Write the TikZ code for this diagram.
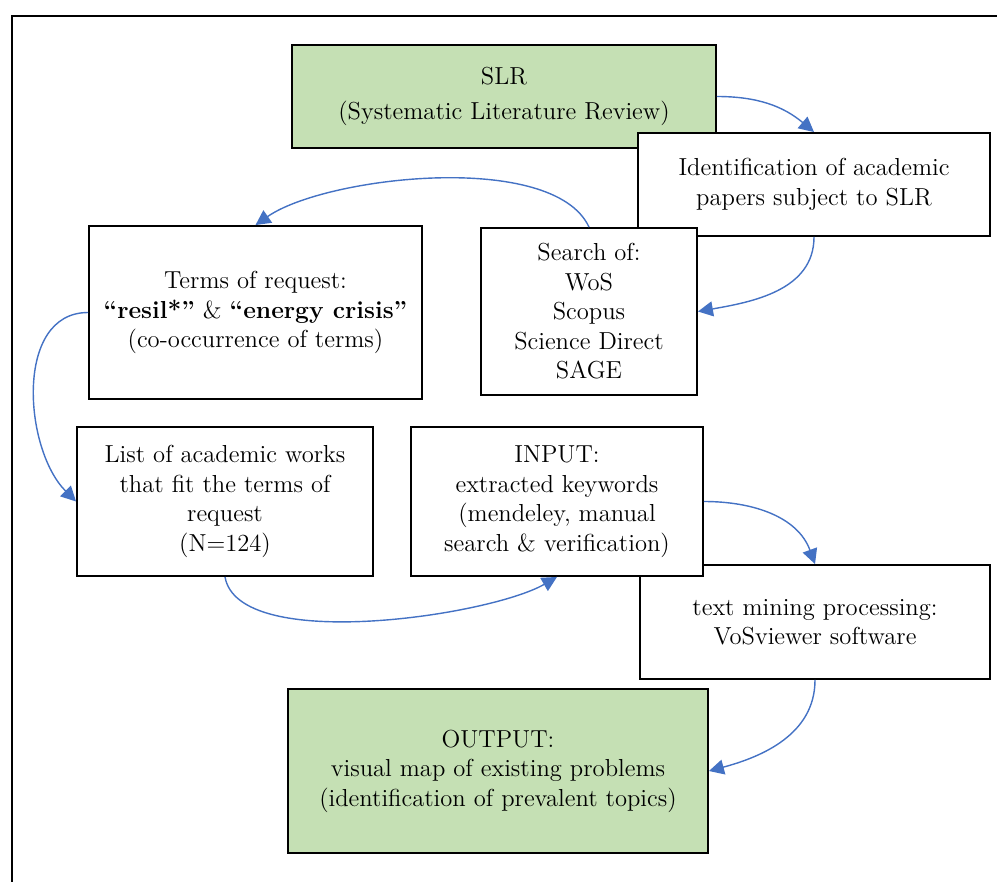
\documentclass[tikz,border=0pt]{standalone}
\usetikzlibrary{arrows.meta}
\definecolor{SLRGreen}{HTML}{C5E0B4}
\definecolor{FlowBlue}{HTML}{4472C4}
\tikzset{
    block/.style = {draw, rectangle, fill=white, line width=1.1pt,
        inner sep=2pt, align=center, font=\fontsize{14}{16.8}\selectfont},
    gblock/.style = {block, fill=SLRGreen},
    arrow/.style = {draw, FlowBlue, line width=0.8pt, -{Triangle[length=3mm,width=3mm]}}
}

\begin{document}
\begin{tikzpicture}[x=0.02cm, y=-0.02cm]
        \useasboundingbox (0,0) rectangle (997,882);
        % frame, open to the right and bottom
        \draw [line width=1.1pt] (997,16) -- (12,16) -- (12,882);

        \node [gblock, minimum width=8.48cm, minimum height=2.06cm] (slr) at (504,96.5)
            {SLR\\[3pt](Systematic Literature Review)};
        \node [block, minimum width=7.04cm, minimum height=2.06cm] (ident) at (814,184.5)
            {Identification of academic\\papers subject to SLR};
        \node [block, minimum width=4.32cm, minimum height=3.34cm] (search) at (589,311.5)
            {Search of:\\WoS\\Scopus\\Science Direct\\SAGE};
        \node [block, minimum width=6.66cm, minimum height=3.46cm] (terms) at (255.5,312.5)
            {Terms of request:\\\textbf{``resil*''} \& \textbf{``energy crisis''}\\(co-occurrence of terms)};
        \node [block, minimum width=5.92cm, minimum height=2.98cm] (list) at (225,501.5)
            {List of academic works\\that fit the terms of\\request\\(N=124)};
        \node [block, minimum width=7.0cm, minimum height=2.28cm] (mining) at (815,622)
            {text mining processing:\\VoSviewer software};
        \node [block, minimum width=5.84cm, minimum height=2.98cm] (input) at (557,501.5)
            {INPUT:\\extracted keywords\\(mendeley, manual\\search \& verification)};
        \node [gblock, minimum width=8.4cm, minimum height=3.28cm] (output) at (498,771)
            {OUTPUT:\\visual map of existing problems\\(identification of prevalent topics)};

        \draw [arrow] (slr.east) to[out=0, in=140] (ident.north);
        \draw [arrow] (ident.south) to[out=-90, in=10] (search.east);
        \draw [arrow] (search.north) to[out=115, in=35, looseness=0.65] (terms.north);
        \draw [arrow] (terms.west) to[out=180, in=135] (list.west);
        \draw [arrow] (list.south) to[out=-80, in=-150, looseness=0.6] (input.south);
        \draw [arrow] (input.east) to[out=0, in=110] (mining.north);
        \draw [arrow] (mining.south) to[out=-90, in=15] (output.east);
    \end{tikzpicture}
\end{document}
